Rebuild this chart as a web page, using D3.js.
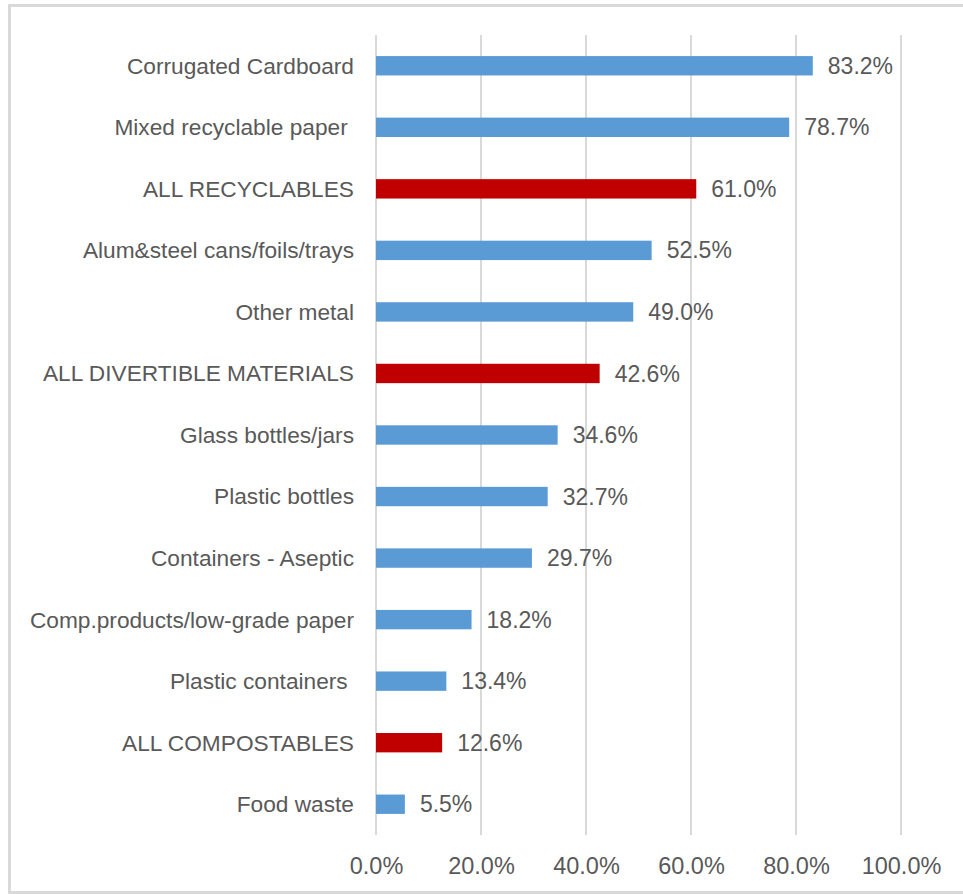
<!DOCTYPE html>
<html>
<head>
<meta charset="utf-8">
<script src="https://cdn.jsdelivr.net/npm/d3@7/dist/d3.min.js"></script>
<style>
  html, body { margin: 0; padding: 0; background: #ffffff; }
  svg { display: block; }
  text { font-family: "Liberation Sans", Arial, sans-serif; fill: #595959; white-space: pre; }
</style>
</head>
<body>
<div id="chart"></div>
<script>
// Diversion rate by material category (top to bottom)
const categories = [
  "Corrugated Cardboard",
  "Mixed recyclable paper ",
  "ALL RECYCLABLES",
  "Alum&steel cans/foils/trays",
  "Other metal",
  "ALL DIVERTIBLE MATERIALS",
  "Glass bottles/jars",
  "Plastic bottles",
  "Containers - Aseptic",
  "Comp.products/low-grade paper",
  "Plastic containers ",
  "ALL COMPOSTABLES",
  "Food waste"
];
const values = [83.2, 78.7, 61.0, 52.5, 49.0, 42.6, 34.6, 32.7, 29.7, 18.2, 13.4, 12.6, 5.5];
// Summary rows are highlighted
const isTotal = [false, false, true, false, false, true, false, false, false, false, false, true, false];
const tickValues = [0, 20, 40, 60, 80, 100];

const W = 963, H = 894;
const svg = d3.select("#chart").append("svg").attr("width", W).attr("height", H);

// Chart frame
svg.append("rect")
  .attr("x", 9.5).attr("y", 5.5)
  .attr("width", 970).attr("height", 887)
  .attr("fill", "none").attr("stroke", "#d9d9d9").attr("stroke-width", 3);

const x = d3.scaleLinear().domain([0, 100]).range([376, 901]);
const y = d3.scaleBand().domain(categories).range([35, 835]).paddingInner(0.685).paddingOuter(0.3425);

// Vertical gridlines
svg.append("g").selectAll("line").data(tickValues).join("line")
  .attr("x1", d => x(d)).attr("x2", d => x(d))
  .attr("y1", 35).attr("y2", 835)
  .attr("stroke", "#d9d9d9").attr("stroke-width", 2);

// X axis tick labels
const xAxis = d3.axisBottom(x).tickValues(tickValues).tickSize(0).tickPadding(0)
  .tickFormat(d => d.toFixed(1) + "%");
const gx = svg.append("g").attr("transform", "translate(0,866)").call(xAxis);
gx.select(".domain").remove();
gx.selectAll("text")
  .attr("dy", "0.35em").attr("y", 0)
  .style("font-size", "23.5px")
  .attr("fill", "#5f5f5f");

// Category labels
const yAxis = d3.axisLeft(y).tickSize(0).tickPadding(0);
const gy = svg.append("g").attr("transform", "translate(354,0)").call(yAxis);
gy.select(".domain").remove();
gy.selectAll("text")
  .attr("x", 0).attr("dy", "0.35em")
  .style("font-size", "22.7px")
  .attr("fill", "#595959");

// Bars
svg.append("g").selectAll("rect").data(values).join("rect")
  .attr("x", x(0))
  .attr("y", (d, i) => y(categories[i]))
  .attr("width", d => x(d) - x(0))
  .attr("height", y.bandwidth())
  .attr("fill", (d, i) => isTotal[i] ? "#c00000" : "#5b9bd5");

// Value labels
svg.append("g").selectAll("text").data(values).join("text")
  .attr("x", d => x(d) + 15)
  .attr("y", (d, i) => y(categories[i]) + y.bandwidth() / 2)
  .attr("dy", "0.35em")
  .style("font-size", "23px")
  .text(d => d.toFixed(1) + "%");
</script>
</body>
</html>
